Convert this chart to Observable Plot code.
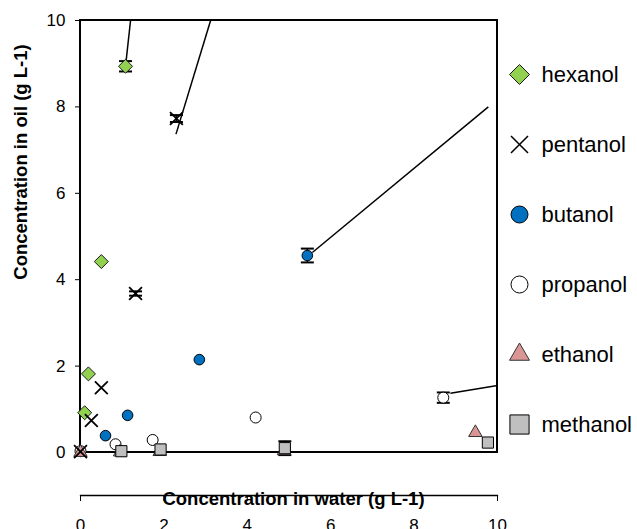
<!DOCTYPE html>
<html><head><meta charset="utf-8">
<script src="https://cdn.jsdelivr.net/npm/d3@7"></script>
<script src="https://cdn.jsdelivr.net/npm/@observablehq/plot@0.6"></script>
<style>
body{margin:0;background:#fff;}
#chart{position:relative;width:637px;height:529px;overflow:hidden;font-family:"Liberation Sans",Arial,sans-serif;}
#chart svg{position:absolute;top:0;}
</style></head><body><div id="chart"></div>
<script>
const seriesNames = ["hexanol","pentanol","butanol","propanol","ethanol","methanol"];
const hexanolWater = [0.10, 0.19, 0.50, 1.08];
const hexanolOil = [0.92, 1.82, 4.42, 8.94];
const pentanolWater = [0.00, 0.26, 0.50, 1.32, 2.30];
const pentanolOil = [0.02, 0.74, 1.50, 3.68, 7.73];
const butanolWater = [0.60, 1.13, 2.85, 5.44];
const butanolOil = [0.39, 0.86, 2.15, 4.56];
const propanolWater = [0.00, 0.84, 1.73, 4.20, 8.70];
const propanolOil = [0.03, 0.19, 0.29, 0.81, 1.27];
const ethanolWater = [0.00, 0.95, 1.90, 4.88, 9.47];
const ethanolOil = [0.00, 0.01, 0.02, 0.04, 0.46];
const methanolWater = [0.98, 1.92, 4.90, 9.77];
const methanolOil = [0.03, 0.07, 0.10, 0.23];

const errSeries = ["hexanol","pentanol","pentanol","butanol","propanol","methanol"];
const errWater = [1.08, 2.30, 1.32, 5.44, 8.70, 4.90];
const errOil = [8.94, 7.73, 3.68, 4.56, 1.27, 0.10];
const errSd = [0.12, 0.08, 0.05, 0.16, 0.12, 0.16];

const fitSeries = ["hexanol","pentanol","butanol","propanol"];
const fitWater1 = [1.08, 2.29, 5.56, 8.87];
const fitOil1 = [8.94, 7.37, 4.63, 1.37];
const fitWater2 = [1.20, 3.12, 9.78, 10.0];
const fitOil2 = [10.0, 10.0, 8.00, 1.55];

const xTicks = [0, 2, 4, 6, 8, 10];
const yTicks = [0, 2, 4, 6, 8, 10];
const xDomain = [0, 10];
const yDomain = [0, 10];
const xTitle = "Concentration in water (g L-1)";
const yTitle = "Concentration in oil (g L-1)";

const waterOf = {hexanol: hexanolWater, pentanol: pentanolWater, butanol: butanolWater, propanol: propanolWater, ethanol: ethanolWater, methanol: methanolWater};
const oilOf = {hexanol: hexanolOil, pentanol: pentanolOil, butanol: butanolOil, propanol: propanolOil, ethanol: ethanolOil, methanol: methanolOil};

const style = {
  hexanol:  {symbol: "diamond2", fill: "#92d050", stroke: "#1a1a1a", r: 6.3, lr: 9,   sw: 1,   lsw: 1},
  pentanol: {symbol: "times",    fill: "none",    stroke: "#000",    r: 5.9, lr: 7.8, sw: 1.8, lsw: 1.5},
  butanol:  {symbol: "circle",   fill: "#0070c0", stroke: "#000",    r: 5.3, lr: 8.5, sw: 1,   lsw: 1},
  propanol: {symbol: "circle",   fill: "#ffffff", stroke: "#000",    r: 5.5, lr: 8.5, sw: 1,   lsw: 1},
  ethanol:  {symbol: "triangle", fill: "#d99694", stroke: "#333",    r: 5,   lr: 7.4, sw: 1,   lsw: 1},
  methanol: {symbol: "square",   fill: "#bfbfbf", stroke: "#000",    r: 6.3, lr: 10.8, sw: 1,  lsw: 1}
};
const drawOrder = ["propanol","ethanol","methanol","butanol","hexanol","pentanol"];

const points = seriesNames.flatMap(n => waterOf[n].map((w, i) => ({series: n, water: w, oil: oilOf[n][i]})));
const errs = errSeries.map((s, i) => ({series: s, water: errWater[i], oil: errOil[i], sd: errSd[i]}));
const fits = fitSeries.map((s, i) => ({series: s, w1: fitWater1[i], o1: fitOil1[i], w2: fitWater2[i], o2: fitOil2[i]}));

const cap = {draw(ctx) { ctx.moveTo(-6.5, 0); ctx.lineTo(6.5, 0); }};
const font = "'Liberation Sans', Arial, sans-serif";

const main = Plot.plot({
  width: 637, height: 529,
  marginLeft: 80, marginRight: 140, marginTop: 20, marginBottom: 34,
  style: {fontFamily: font, fontSize: "17px", background: "transparent", color: "#000", overflow: "visible"},
  x: {domain: xDomain},
  y: {domain: yDomain, range: [452, 20]},
  marks: [
    Plot.rect([0], {x1: xDomain[0], x2: xDomain[1], y1: yDomain[0], y2: yDomain[1], fill: "none", stroke: "#000", strokeWidth: 2}),
    Plot.frame({anchor: "bottom", stroke: "#000", strokeWidth: 1.3}),
    Plot.axisY({ticks: yTicks, tickSize: 5, tickPadding: 10, fontSize: 17, label: null, tickFormat: d => String(d)}),
    Plot.axisX({ticks: xTicks, tickSize: 6, tickPadding: 17, fontSize: 17, label: null, tickFormat: d => String(d)}),
    Plot.link(fits, {x1: "w1", y1: "o1", x2: "w2", y2: "o2", stroke: "#000", strokeWidth: 1.5}),
    Plot.ruleX(errs, {x: "water", y1: d => d.oil - d.sd, y2: d => d.oil + d.sd, stroke: "#000", strokeWidth: 1.5}),
    Plot.dot(errs, {x: "water", y: d => d.oil - d.sd, symbol: cap, stroke: "#000", strokeWidth: 2, fill: "none"}),
    Plot.dot(errs, {x: "water", y: d => d.oil + d.sd, symbol: cap, stroke: "#000", strokeWidth: 2, fill: "none"}),
    ...drawOrder.map(n => Plot.dot(points.filter(p => p.series === n), {
      x: "water", y: "oil", symbol: style[n].symbol, r: style[n].r,
      fill: style[n].fill, stroke: style[n].stroke, strokeWidth: style[n].sw
    })),
    Plot.text([xTitle], {frameAnchor: "bottom", text: d => d, dx: 4.5, dy: 4, textAnchor: "middle", lineAnchor: "middle", fontSize: 18.5, fontWeight: "bold"}),
    Plot.text([yTitle], {frameAnchor: "left", text: d => d, rotate: -90, dx: -59, dy: -96, textAnchor: "middle", lineAnchor: "middle", fontSize: 18.5, fontWeight: "bold"})
  ]
});
main.style.left = "0px";

const legend = Plot.plot({
  width: 140, height: 529, margin: 0,
  style: {fontFamily: font, fontSize: "22px", background: "transparent", color: "#000", overflow: "visible"},
  y: {type: "point", domain: seriesNames, range: [72, 425], padding: 0, axis: null},
  marks: [
    ...seriesNames.map(n => Plot.dot([n], {
      y: d => d, frameAnchor: "left", dx: 22, symbol: style[n].symbol, r: style[n].lr,
      fill: style[n].fill, stroke: style[n].stroke, strokeWidth: style[n].lsw
    })),
    Plot.text(seriesNames, {y: d => d, text: d => d, frameAnchor: "left", dx: 44, textAnchor: "start", lineAnchor: "middle", fontSize: 22})
  ]
});
legend.style.left = "497px";

const chart = document.getElementById("chart");
chart.append(main, legend);
</script>
</body></html>
